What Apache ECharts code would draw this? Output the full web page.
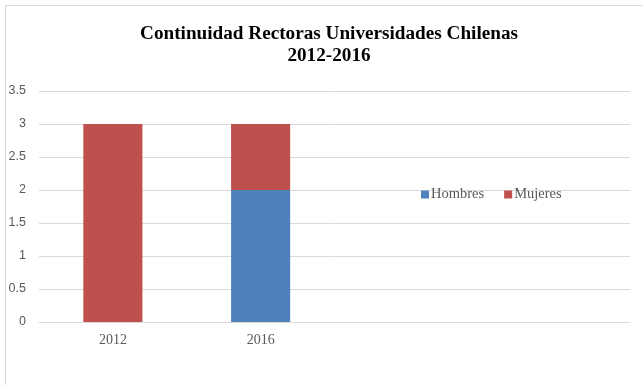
<!DOCTYPE html>
<html><head><meta charset="utf-8">
<script src="https://cdn.jsdelivr.net/npm/echarts@6/dist/echarts.min.js"></script>
<style>html,body{margin:0;padding:0;background:#fff}#c{width:643px;height:385px}</style>
</head><body><div id="c"></div>
<script>
const categories = ["2012", "2016", "", ""];
const hombres = [0, 2, null, null];
const mujeres = [3, 1, null, null];
const yTicks = {min: 0, max: 3.5, interval: 0.5};

const chart = echarts.init(document.getElementById('c'));
const lblFont = "'Liberation Serif', 'DejaVu Serif', serif";
const sansFont = "'Liberation Sans', 'Open Sans', sans-serif";
chart.setOption({
  animation: false,
  backgroundColor: '#fff',
  graphic: [{type: 'rect', shape: {x: 5.5, y: 5.5, width: 700, height: 500}, style: {fill: 'none', stroke: '#d9d9d9', lineWidth: 1}, silent: true, z: -1}],
  title: {
    text: 'Continuidad Rectoras Universidades Chilenas\n2012-2016',
    left: 324, top: 18, textAlign: 'center',
    textStyle: {fontFamily: lblFont, fontWeight: 'bold', fontSize: 19.2, color: '#000', lineHeight: 22}
  },
  legend: {
    data: ['Hombres', 'Mujeres'],
    left: 416, top: 182,
    itemWidth: 8, itemHeight: 8, itemGap: 20,
    icon: 'rect',
    textStyle: {fontFamily: lblFont, fontSize: 14.5, color: '#595959', padding: [0,0,0,-3]}
  },
  grid: {left: 39, right: 13, top: 91, bottom: 63, containLabel: false},
  xAxis: {
    type: 'category', data: categories,
    axisLine: {lineStyle: {color: '#d9d9d9'}},
    axisTick: {show: false},
    axisLabel: {fontFamily: lblFont, fontSize: 14, color: '#595959', margin: 11}
  },
  yAxis: {
    type: 'value', min: yTicks.min, max: yTicks.max, interval: yTicks.interval,
    axisLine: {show: false}, axisTick: {show: false},
    splitLine: {lineStyle: {color: '#d9d9d9'}},
    axisLabel: {fontFamily: sansFont, fontSize: 12.5, color: '#595959', margin: 13}
  },
  series: [
    {name: 'Hombres', type: 'bar', stack: 's', data: hombres, barWidth: '40%', itemStyle: {color: '#4F81BD'}},
    {name: 'Mujeres', type: 'bar', stack: 's', data: mujeres, barWidth: '40%', itemStyle: {color: '#C0504D'}}
  ]
});
</script></body></html>
